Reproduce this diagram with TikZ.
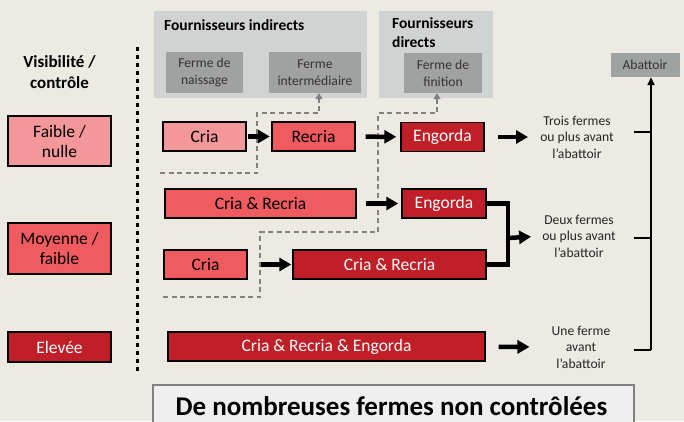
\documentclass[tikz,border=0pt]{standalone}
\usepackage{fontspec}
\setmainfont{Carlito}
\usetikzlibrary{arrows.meta}
\definecolor{bg}{HTML}{EDEAE4}
\definecolor{lgray}{HTML}{D1D2D2}
\definecolor{dgray}{HTML}{A0A2A2}
\definecolor{pinkA}{HTML}{F4979A}
\definecolor{redB}{HTML}{F05B5F}
\definecolor{redC}{HTML}{C11F27}
\definecolor{dashgray}{HTML}{808080}
\definecolor{botfill}{HTML}{EFEFEF}
\definecolor{fgtext}{HTML}{333333}
\begin{document}
\begin{tikzpicture}[x=1pt,y=-1pt,
  box/.style={draw=black, line width=1.4pt, minimum height=29pt, inner sep=0pt,
    font=\fontsize{17.5}{20}\selectfont, align=center},
  lvl/.style={box, minimum width=103pt},
  fbox/.style={fill=dgray, inner sep=0pt, text=fgtext, align=center,
    font=\fontsize{13.6}{17}\selectfont},
  grp/.style={fill=lgray, inner sep=0pt, anchor=north west},
  lbl/.style={font=\bfseries\fontsize{15.5}{19}\selectfont, inner sep=0pt, align=left},
  small/.style={font=\fontsize{13.6}{16.5}\selectfont, inner sep=0pt, align=center, text=black!85},
  bigarrow/.style={line width=4.5pt, -{Triangle[length=12pt,width=13pt]}},
  dashg/.style={draw=dashgray, line width=2pt, dash pattern=on 5pt off 3.5pt},
  dashtip/.style={dashg, -{Triangle[length=6pt,width=7pt]}},
  thinarrow/.style={line width=2pt, -{Triangle[length=8pt,width=7pt]}},
]
\fill[bg] (0,0) rectangle (684,421);
\useasboundingbox (0,0) rectangle (684,421);

% supplier groups
\node[grp, minimum width=213pt, minimum height=87pt] (indir) at (154,11) {};
\node[grp, minimum width=114pt, minimum height=87pt] (dir) at (379,11) {};
\node[lbl, anchor=base west] (indirlbl) at (164,30) {Fournisseurs indirects};
\node[lbl, anchor=north west] (dirlbl) at (392,17.5) {Fournisseurs\\directs};
\node[fbox, minimum width=77pt, minimum height=41pt] (naiss) at (204.5,72.5) {Ferme de\\naissage};
\node[fbox, minimum width=92pt, minimum height=41pt] (inter) at (315,72.5) {Ferme\\intermédiaire};
\node[fbox, minimum width=78pt, minimum height=40pt] (fin) at (443,73) {Ferme de\\finition};
\node[fbox, minimum width=69pt, minimum height=24pt] (abat) at (645,65) {Abattoir};

% left column
\node[font=\bfseries\fontsize{17}{21}\selectfont, align=center, inner sep=0pt] (vis) at (59.5,72) {Visibilité /\\contrôle};
\node[lvl, fill=pinkA, minimum height=50pt] (faible) at (59.5,141) {Faible /\\nulle};
\node[lvl, fill=redB, minimum height=51pt] (moy) at (59.5,248.5) {Moyenne /\\faible};
\node[lvl, fill=redC, text=white, minimum height=30pt] (elev) at (59.5,347) {Elevée};

% dotted separator
\coordinate (dtop) at (137,47);
\coordinate (dbot) at (137,372);
\draw[line width=3pt, dash pattern=on 4pt off 4pt] (dtop) -- (dbot);

% farm boxes
\node[box, fill=pinkA, minimum width=83pt] (cria1) at (204.5,136.5) {Cria};
\node[box, fill=redB, minimum width=83pt] (recria1) at (313.5,136.5) {Recria};
\node[box, fill=redC, text=white, minimum width=83pt] (eng1) at (442.5,137) {Engorda};
\node[box, fill=redB, minimum width=191pt] (cr2) at (260.5,203.5) {Cria \& Recria};
\node[box, fill=redC, text=white, minimum width=84pt] (eng2) at (444,203.5) {Engorda};
\node[box, fill=redB, minimum width=83pt] (cria3) at (205.5,264.5) {Cria};
\node[box, fill=redC, text=white, minimum width=193pt] (cr3) at (389.5,264.5) {Cria \& Recria};
\node[box, fill=redC, text=white, minimum width=317pt] (cre4) at (326.5,346.5) {Cria \& Recria \& Engorda};

% outcome texts
\node[small] (t1) at (577,137) {Trois fermes\\ou plus avant\\l’abattoir};
\node[small] (t2) at (579,236) {Deux fermes\\ou plus avant\\l’abattoir};
\node[small] (t3) at (581,347) {Une ferme\\avant\\l’abattoir};

% dashed supplier lines
\coordinate (a1) at (160,173);
\coordinate (a2) at (257,173);
\coordinate (a3) at (257,113);
\coordinate (a4) at (319,113);
\draw[dashtip] (a1) -- (a2) -- (a3) -- (a4) -- (a4 |- inter.south);
\coordinate (b1) at (163,297);
\coordinate (b2) at (260,297);
\coordinate (b3) at (260,232);
\coordinate (b4) at (378,232);
\coordinate (b5) at (378,113);
\coordinate (b6) at (437,113);
\draw[dashtip] (b1) -- (b2) -- (b3) -- (b4) -- (b5) -- (b6) -- (b6 |- fin.south);

% flow arrows
\draw[bigarrow, shorten <=1.5pt, shorten >=1.5pt] (cria1) -- (recria1);
\draw[bigarrow, shorten <=10pt, shorten >=4pt] (recria1) -- (eng1);
\draw[bigarrow, shorten <=13pt, shorten >=12pt] (eng1) -- (t1);
\draw[bigarrow, shorten <=9pt, shorten >=3pt] (cr2) -- (eng2);
\draw[bigarrow, shorten <=13pt, shorten >=1pt] (cria3) -- (cr3);
\draw[bigarrow, shorten <=13pt, shorten >=22pt] (cre4) -- (t3);

% bracket
\coordinate (brt) at (508,203.5);
\coordinate (brb) at (508,264.5);
\coordinate (brm) at (508,238);
\draw[line width=4.5pt] (eng2.east) -- (brt) -- (brb) -- (cr3.east);
\draw[bigarrow, shorten >=11pt] (brm) -- (t2.west);

% to abattoir
\coordinate (k1) at (634,132);
\coordinate (k2) at (634,238);
\coordinate (k3) at (634,350);
\coordinate (vb) at (651,350);
\draw[line width=2pt] (k1) -- (k1 -| vb);
\draw[line width=2pt] (k2) -- (k2 -| vb);
\draw[line width=2pt] (k3) -- (vb);
\draw[thinarrow] (vb) -- (vb |- abat.south);

% bottom banner
\node[draw=dashgray, line width=2pt, fill=botfill, minimum width=481pt, minimum height=52pt, anchor=north west] (banner) at (152,384) {};
\node[font=\bfseries\fontsize{27}{30}\selectfont, anchor=base, inner sep=0pt] (bantext) at (391.5,415) {De nombreuses fermes non contrôlées};
\end{tikzpicture}
\end{document}
